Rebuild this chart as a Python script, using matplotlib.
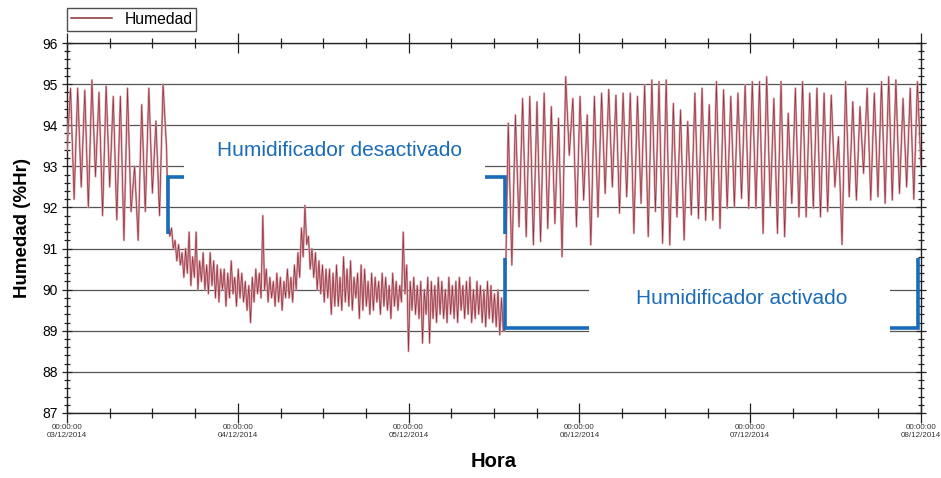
import numpy as np
import matplotlib
matplotlib.use("Agg")
import matplotlib.pyplot as plt
from matplotlib.lines import Line2D
from matplotlib.patches import Rectangle
from matplotlib.ticker import MultipleLocator

plt.rcParams['font.family'] = ['Liberation Sans', 'DejaVu Sans']

# time axis in hours since 03/12/2014 00:00:00
day_labels = ['03/12/2014', '04/12/2014', '05/12/2014',
              '06/12/2014', '07/12/2014', '08/12/2014']
off_h = 14.2    # humidifier switched off
on_h = 61.5     # humidifier switched on again
end_h = 119.6

# humidifier on, 03/12 00:00 -> 14:00 (about two samples per hour)
hum_start = [93.4, 94.9, 92.2, 94.9, 92.5, 94.85, 92.0, 95.1, 92.75, 94.8,
             91.8, 94.95, 92.5, 94.7, 91.7, 94.7, 91.2, 94.9, 91.9, 93.0,
             91.2, 94.5, 91.9, 94.9, 92.35, 94.1, 91.8, 95.0, 93.4]

# humidifier off, one row per hour
hum_off = [
    [91.6, 91.3, 91.5, 91.0], [91.2, 90.7, 91.1, 90.6], [90.9, 90.3, 91.0, 90.4],
    [91.4, 90.1, 90.8, 90.3], [91.4, 90.0, 90.7, 90.2], [90.9, 90.0, 90.6, 89.9],
    [90.9, 90.1, 90.7, 89.8], [90.6, 89.7, 90.5, 90.0], [90.5, 89.6, 90.4, 89.8],
    [90.7, 89.9, 90.3, 89.6], [90.5, 89.8, 90.4, 89.7], [90.2, 89.5, 90.1, 89.2],
    [90.3, 89.7, 90.5, 89.9], [90.4, 89.8, 91.8, 90.0], [90.5, 89.7, 90.3, 89.8],
    [90.2, 89.6, 90.4, 89.7], [90.3, 89.5, 90.2, 89.8], [90.5, 89.8, 90.3, 89.7],
    [90.6, 90.0, 90.9, 90.3], [91.5, 90.8, 92.05, 91.1], [91.3, 90.5, 91.0, 90.3],
    [90.9, 90.0, 90.7, 89.9], [90.6, 89.7, 90.5, 89.8], [90.5, 89.4, 90.4, 89.6],
    [90.6, 89.6, 90.3, 89.5], [90.8, 89.7, 90.5, 89.6], [90.7, 89.5, 90.3, 89.8],
    [90.4, 89.3, 90.6, 89.5], [90.5, 89.6, 90.2, 89.4], [90.4, 89.5, 90.3, 89.7],
    [90.2, 89.4, 90.4, 89.6], [90.3, 89.5, 90.1, 89.3], [90.4, 89.6, 90.2, 89.5],
    [90.1, 89.7, 91.4, 89.9], [90.6, 88.5, 90.2, 89.5], [90.3, 89.4, 90.1, 89.3],
    [90.2, 88.7, 90.0, 89.4], [90.3, 88.7, 90.2, 89.3], [90.1, 89.2, 90.3, 89.4],
    [90.2, 89.3, 90.0, 89.2], [90.3, 89.4, 90.1, 89.3], [90.2, 89.2, 90.3, 89.5],
    [90.1, 89.3, 90.2, 89.4], [90.3, 89.2, 90.0, 89.3], [90.2, 89.4, 90.1, 89.2],
    [90.0, 89.1, 90.2, 89.3], [90.1, 89.2, 89.9, 89.1], [90.0, 88.9, 89.8, 89.0],
]

# humidifier on again: hourly peaks and the trough that follows each one
peaks_on = [94.05, 94.25, 94.65, 94.7, 94.57, 94.78, 94.45, 94.17, 95.18, 94.65,
            94.7, 94.25, 94.7, 94.78, 94.87, 94.73, 94.78, 94.78, 94.7, 94.98,
            95.1, 95.06, 95.1, 94.53, 94.37, 94.09, 94.78, 94.9, 94.5, 95.06,
            94.86, 94.7, 94.78, 94.98, 95.06, 95.06, 95.18, 94.65, 95.06, 94.29,
            94.9, 95.06, 94.78, 94.9, 94.78, 94.73, 93.72, 95.06, 94.57, 94.45,
            94.9, 94.78, 95.06, 95.18, 95.1, 94.65, 94.9, 95.06]
troughs_on = [90.6, 91.53, 91.29, 91.09, 91.17, 91.49, 91.61, 90.8, 93.27, 91.53,
              92.18, 91.09, 91.77, 92.34, 92.5, 91.86, 92.26, 91.37, 92.1, 91.29,
              91.9, 91.13, 91.09, 91.77, 91.21, 91.82, 91.73, 91.69, 91.69, 91.49,
              91.98, 92.02, 92.22, 91.98, 91.98, 91.37, 92.02, 91.37, 91.29, 92.1,
              91.77, 91.77, 91.98, 91.77, 91.9, 92.5, 91.1, 92.26, 92.18, 92.83,
              92.18, 92.26, 92.1, 92.18, 92.34, 92.5, 92.2, 93.0]
hum_switch_on = 89.0

v1 = np.array(hum_start)
t1 = np.linspace(0, 14.0, len(v1))
v2 = np.array(hum_off).ravel()
t2 = np.linspace(off_h, on_h - 0.2, len(v2))
v3 = np.concatenate([[hum_switch_on], np.column_stack([peaks_on, troughs_on]).ravel()])
t3 = np.linspace(on_h, 120, len(v3))
t = np.concatenate([t1, t2, t3])
v = np.concatenate([v1, v2, v3])

fig = plt.figure(figsize=(9.41, 4.78), dpi=100)
ax = fig.add_axes([67 / 941, 1 - 413 / 478, (921 - 67) / 941, (413 - 43) / 478])

ax.plot(t, v, color='#d9a1a8', lw=1.5, zorder=3)
ax.plot(t, v, color='#8a2531', lw=0.5, alpha=0.9, zorder=4)

ax.set_xlim(0, 120)
ax.set_ylim(87, 96)
ax.yaxis.set_major_locator(MultipleLocator(1))
ax.yaxis.set_minor_locator(MultipleLocator(0.2))
ax.xaxis.set_minor_locator(MultipleLocator(6))
ax.set_xticks(np.arange(0, 121, 24))
ax.set_xticklabels(['00:00:00\n' + d for d in day_labels], fontsize=5.8, color='#333333')
ax.tick_params(axis='y', labelsize=10, pad=3)
ax.tick_params(which='both', direction='inout', top=True, right=True, width=0.9, color='#222222')
ax.tick_params(axis='x', which='major', length=14, pad=1)
ax.tick_params(axis='x', which='minor', length=7)
ax.tick_params(axis='y', which='major', length=7)
ax.tick_params(axis='y', which='minor', length=5)
for s in ax.spines.values():
    s.set_linewidth(1.0)
    s.set_color('#222222')

ax.grid(axis='y', which='major', color='#555555', lw=0.9, zorder=1)
ax.set_axisbelow(True)

# annotations
blue = '#1a6cb8'
arm1 = 2.3
arm2 = 11.8
ax.plot([off_h + arm1, off_h, off_h], [92.73, 92.73, 91.35], color=blue, lw=2.6, zorder=6,
        solid_capstyle='butt', solid_joinstyle='miter')
ax.plot([on_h - 2.8, on_h, on_h], [92.73, 92.73, 91.35], color=blue, lw=2.6, zorder=6,
        solid_capstyle='butt', solid_joinstyle='miter')
ax.add_patch(Rectangle((off_h + arm1, 92.85), on_h - 2.8 - off_h - arm1, 1.0,
                       facecolor='white', edgecolor='none', zorder=2))
ax.text((off_h + on_h) / 2 + 0.5, 93.38, 'Humidificador desactivado', color=blue,
        fontsize=15, ha='center', va='center', zorder=7)

ax.plot([on_h, on_h, on_h + arm2], [90.77, 89.07, 89.07], color=blue, lw=2.6, zorder=6,
        solid_capstyle='butt', solid_joinstyle='miter')
ax.plot([end_h - 4.0, end_h, end_h], [89.07, 89.07, 90.77], color=blue, lw=2.6, zorder=6,
        solid_capstyle='butt', solid_joinstyle='miter')
ax.add_patch(Rectangle((on_h + arm2, 88.85), end_h - 4.0 - on_h - arm2, 1.4,
                       facecolor='white', edgecolor='none', zorder=2))
ax.text((on_h + arm2 + end_h - 4.0) / 2 + 0.3, 89.78, 'Humidificador activado', color=blue,
        fontsize=15, ha='center', va='center', zorder=7)

ax.set_ylabel('Humedad (%Hr)', fontsize=13.5, fontweight='bold', labelpad=8)
ax.set_xlabel('Hora', fontsize=14.5, fontweight='bold', labelpad=9)

handle = Line2D([], [], color='#8b2e36', lw=1.1)
fig.legend([handle], ['Humedad'], loc='upper left', bbox_to_anchor=(67 / 941, 1 - 8 / 478),
           fontsize=11.3, frameon=True, fancybox=False, edgecolor='#222222',
           handlelength=2.6, handletextpad=0.8, borderpad=0.25, borderaxespad=0)
fig.legends[0].get_frame().set_linewidth(1.0)

fig.savefig('out.png', dpi=100, facecolor='white')
